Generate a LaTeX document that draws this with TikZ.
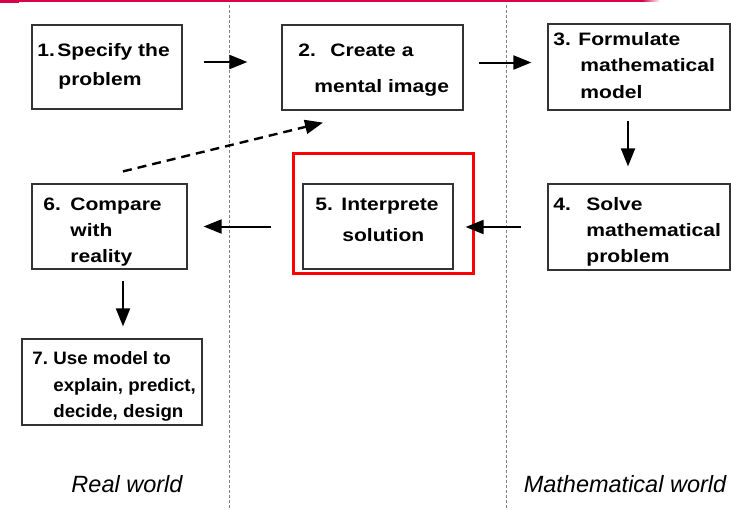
\documentclass[tikz,border=0pt]{standalone}
\usepackage{fontspec}
\setmainfont{Liberation Sans}
\newfontfamily\boxfont[FakeStretch=1.17]{Liberation Sans}
\newfontfamily\boxfontn[FakeStretch=1.04]{Liberation Sans}
\usetikzlibrary{arrows.meta}
\definecolor{slidered}{RGB}{218,0,72}

\begin{document}
\begin{tikzpicture}[
  x=0.5pt, y=-0.5pt,
  box/.style={draw=black!80, line width=0.6pt, inner sep=0pt},
  txt/.style={anchor=west, inner sep=0pt, align=left, font=\boxfont\bfseries\fontsize{9}{13.2}\selectfont},
  arr/.style={line width=1pt, -{Triangle[length=9pt, width=7pt]}},
  world/.style={anchor=base, font=\itshape\fontsize{11.75}{14}\selectfont},
  divider/.style={gray, line width=0.5pt, dash pattern=on 1.5pt off 1pt}
]
\useasboundingbox (0,0) rectangle (731,509);

% slide rule at the top
\fill[slidered] (0,0) rectangle (642,1.8);
\fill[slidered] (0,0) rectangle (19,2.7);
\shade[left color=slidered, right color=white] (642,0) rectangle (660,1.8);

% real world | model | mathematical world
\draw[divider] (229,5) -- (229,509);
\draw[divider] (506,5) -- (506,509);

\node[box, minimum width=75pt, minimum height=42pt] (B1) at (107,67) {};
\node[box, minimum width=90.5pt, minimum height=42.5pt] (B2) at (372.5,67.5) {};
\node[box, minimum width=91pt, minimum height=43pt] (B3) at (639,67) {};
\node[box, minimum width=91pt, minimum height=43pt] (B4) at (639,227) {};
\node[box, minimum width=75pt, minimum height=42.5pt] (B5) at (378,226.5) {};
\node[box, minimum width=77.5pt, minimum height=42.5pt] (B6) at (109.5,226.5) {};
\node[box, minimum width=90pt, minimum height=43pt] (B7) at (112,382) {};
\node[draw=red, line width=1.5pt, minimum width=90pt, minimum height=60pt] (H) at (383.5,213.5) {};

\node[txt] (T1) at (37,66.5) {\makebox[10pt][l]{1.}Specify the\\[1.6pt]\hspace*{10.5pt}problem};
\node[txt] (T2) at (298,70) {\makebox[16pt][l]{2.}Create a\\[5.1pt]\hspace*{8pt}mental image};
\node[txt] (T3) at (553,65.5) {\makebox[12.5pt][l]{3.}Formulate\\\hspace*{13.5pt}mathematical\\\hspace*{13.5pt}model};
\node[txt] (T4) at (553,231.8) {\makebox[16.5pt][l]{4.}Solve\\\hspace*{16.5pt}mathematical\\\hspace*{16.5pt}problem};
\node[txt] (T5) at (315,220) {\makebox[13pt][l]{5.}Interprete\\[2.25pt]\hspace*{13.5pt}solution};
\node[txt] (T6) at (43,232) {\makebox[13.5pt][l]{6.}Compare\\\hspace*{13.5pt}with\\\hspace*{13.5pt}reality};
\node[txt, font=\boxfontn\bfseries\fontsize{9}{13.2}\selectfont] (T7) at (32,386.4) {\makebox[10.5pt][l]{7.}Use model to\\\hspace*{10.5pt}explain, predict,\\\hspace*{10.5pt}decide, design};

\draw[arr, shorten <=10.5pt, shorten >=17pt] ([yshift=2.5pt]B1.east) -- ([yshift=2.5pt]B1.east -| B2.west);
\draw[arr, shorten <=7.5pt, shorten >=8pt] ([yshift=2.5pt]B2.east) -- ([yshift=2.5pt]B2.east -| B3.west);
\draw[arr, shorten <=5pt, shorten >=8.5pt] ([xshift=-5.5pt]B3.south) -- ([xshift=-5.5pt]B3.south |- B4.north);
\draw[arr, shorten <=13pt, shorten >=6pt] (B4.west) -- (B4.west -| B5.east);
\draw[arr, shorten <=15.5pt, shorten >=8pt] (B5.west) -- (B5.west -| B6.east);
\draw[arr, shorten <=5.5pt, shorten >=6pt] ([xshift=6.75pt]B6.south) -- ([xshift=6.75pt]B6.south |- B7.north);
\draw[arr, line width=1.2pt, dash pattern=on 4.5pt off 3pt] ([xshift=6.75pt, yshift=6pt]B6.north) -- ([xshift=-24.75pt, yshift=-6pt]B2.south);

\node[world] (RW) at (127,492) {Real world};
\node[world] (MW) at (625,492) {Mathematical world};
\end{tikzpicture}
\end{document}
